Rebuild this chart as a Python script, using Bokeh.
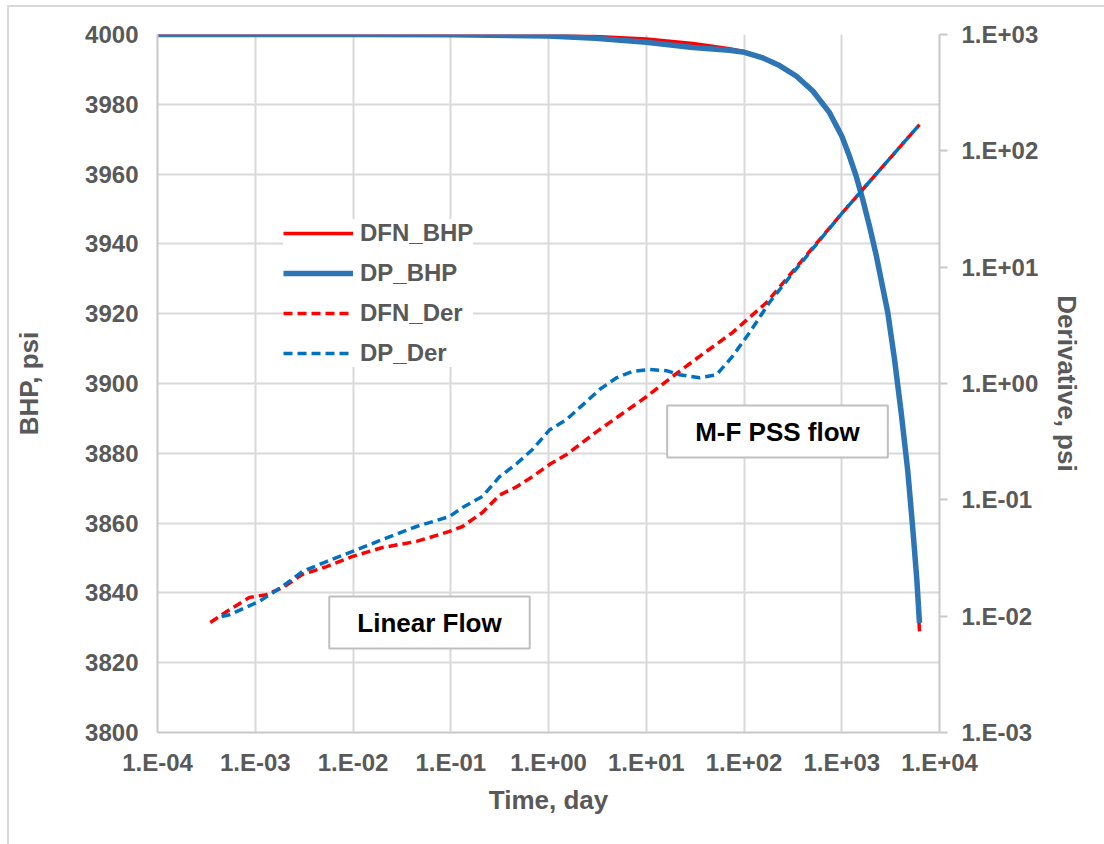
from bokeh.plotting import figure
from bokeh.models import (Range1d, LogScale, LogAxis, FixedTicker, Legend, LegendItem, Label)
from bokeh.embed import file_html
from bokeh.resources import INLINE

# ---------------- data ----------------
t_bhp = [1e-4, 1e-3, 1e-2, 1e-1, 1, 3, 10, 30, 71, 101, 156, 231, 342, 506, 750, 1000,
         1200, 1405, 1641, 1922, 2250, 2958, 3464, 4058, 4742, 5337, 5863, 6240]
dfn_bhp = [4000, 4000, 4000, 4000, 3999.8, 3999.4, 3998.7, 3997.4, 3995.9, 3995.1,
           3993.4, 3991.1, 3988.1, 3983.8, 3977.6, 3970.9, 3965.1, 3959.4, 3952.7,
           3945.1, 3936.8, 3920.3, 3907.0, 3891.6, 3874.8, 3858.2, 3843.8, 3829.0]
dp_bhp = [4000, 4000, 4000, 3999.95, 3999.6, 3998.9, 3997.8, 3996.3, 3995.5, 3994.9,
          3993.3, 3991.1, 3988.1, 3983.8, 3977.6, 3970.9, 3965.1, 3959.4, 3952.7,
          3945.1, 3936.8, 3920.3, 3907.0, 3891.6, 3874.8, 3858.2, 3843.8, 3831.4]

t_dfn_der = [3.47e-4, 5.50e-4, 8.71e-4, 1.30e-3, 1.91e-3, 3.02e-3, 5.37e-3, 9.89e-3,
             2.00e-2, 4.47e-2, 9.70e-2, 0.132, 0.211, 0.316, 0.468, 0.685, 1.02, 1.53,
             3.33, 7.23, 10.1, 18.6, 35.1, 76.2, 170, 1019, 6240]
dfn_der = [8.81e-3, 1.14e-2, 1.45e-2, 1.53e-2, 1.76e-2, 2.28e-2, 2.67e-2, 3.26e-2,
           3.89e-2, 4.39e-2, 5.35e-2, 5.90e-2, 7.78e-2, 0.110, 0.129, 0.158, 0.201, 0.245,
           0.402, 0.634, 0.773, 1.15, 1.71, 2.74, 4.97, 29.5, 168]

t_dp_der = [4.52e-4, 5.46e-4, 1.10e-3, 1.90e-3, 3.04e-3, 5.36e-3, 9.89e-3, 2.00e-2,
            4.47e-2, 9.70e-2, 0.132, 0.211, 0.316, 0.471, 0.685, 1.02, 1.53, 3.33,
            4.97, 7.23, 10.8, 16.1, 21.9, 35.1, 52.4, 76.2, 114, 182, 316, 1019, 6240]
dp_der = [9.93e-3, 1.03e-2, 1.34e-2, 1.80e-2, 2.42e-2, 2.95e-2, 3.60e-2, 4.56e-2,
          5.90e-2, 7.19e-2, 8.59e-2, 0.107, 0.158, 0.204, 0.271, 0.398, 0.490, 0.887,
          1.12, 1.27, 1.32, 1.29, 1.19, 1.12, 1.19, 1.71, 2.74, 4.97, 8.91, 29.5, 168]

x_ticks = [1e-4, 1e-3, 1e-2, 1e-1, 1e0, 1e1, 1e2, 1e3, 1e4]
x_tick_labels = ["1.E-04", "1.E-03", "1.E-02", "1.E-01", "1.E+00", "1.E+01",
                 "1.E+02", "1.E+03", "1.E+04"]
bhp_ticks = [3800, 3820, 3840, 3860, 3880, 3900, 3920, 3940, 3960, 3980, 4000]
der_ticks = [1e-3, 1e-2, 1e-1, 1e0, 1e1, 1e2, 1e3]
der_tick_labels = ["1.E-03", "1.E-02", "1.E-01", "1.E+00", "1.E+01", "1.E+02", "1.E+03"]

# ---------------- styling ----------------
FONT = "Liberation Sans"
GREY_TXT = "#595959"
GRID = "#d9d9d9"
AXIS = "#c8c8c8"
RED = "#ff0000"
BLUE = "#2e75b6"
BLUE_D = "#0070c0"

p = figure(width=1097, height=839, x_axis_type="log",
           x_range=Range1d(1e-4, 1e4), y_range=Range1d(3800, 4000),
           output_backend="svg", toolbar_location=None,
           min_border_left=148, min_border_right=167, min_border_top=27,
           min_border_bottom=114)
p.margin = (5, 0, 0, 7)
p.styles = {"border-top": "2px solid #d9d9d9", "border-left": "2px solid #d9d9d9"}
p.outline_line_color = None
p.background_fill_color = "white"
p.border_fill_color = "white"

p.extra_y_ranges = {"der": Range1d(1e-3, 1e3)}
p.extra_y_scales = {"der": LogScale()}

# grids
p.xgrid.ticker = FixedTicker(ticks=x_ticks)
p.ygrid.ticker = FixedTicker(ticks=bhp_ticks)
for g in (p.xgrid, p.ygrid):
    g.grid_line_color = GRID
    g.grid_line_width = 2
p.xgrid.minor_grid_line_color = None

# axes
xa = p.xaxis[0]
xa.ticker = FixedTicker(ticks=x_ticks)
xa.major_label_overrides = {t: l for t, l in zip(x_ticks, x_tick_labels)}
xa.axis_label = "Time, day"

ya = p.yaxis[0]
ya.ticker = FixedTicker(ticks=bhp_ticks)
ya.axis_label = "BHP, psi"

ra = LogAxis(y_range_name="der", ticker=FixedTicker(ticks=der_ticks),
             axis_label="Derivative, psi")
ra.major_label_overrides = {t: l for t, l in zip(der_ticks, der_tick_labels)}
p.add_layout(ra, "right")

for ax in (xa, ya, ra):
    ax.axis_line_color = AXIS
    ax.axis_line_width = 2
    ax.minor_tick_line_color = None
    ax.major_label_text_font = FONT
    ax.major_label_text_font_style = "bold"
    ax.major_label_text_font_size = "24px"
    ax.major_label_text_color = GREY_TXT
    ax.axis_label_text_font = FONT
    ax.axis_label_text_font_style = "bold"
    ax.axis_label_text_font_size = "26px"
    ax.axis_label_text_color = GREY_TXT
xa.major_tick_line_color = None
ya.major_tick_line_color = None
ra.major_tick_line_color = AXIS
ra.major_tick_line_width = 2
ra.major_tick_out = 8
ra.major_tick_in = 0
xa.major_label_standoff = 10
ya.major_label_standoff = 13
ra.major_label_standoff = 14
xa.axis_label_standoff = 6
ya.axis_label_standoff = 38
ra.axis_label_standoff = 11

# ---------------- lines ----------------
r1 = p.line(t_bhp, dfn_bhp, line_color=RED, line_width=3.5)
r2 = p.line(t_bhp, dp_bhp, line_color=BLUE, line_width=5.5)
r3 = p.line(t_dfn_der, dfn_der, line_color=RED, line_width=3.5, line_dash="9 5",
            y_range_name="der")
r4 = p.line(t_dp_der, dp_der, line_color=BLUE_D, line_width=3.5, line_dash="9 5",
            y_range_name="der")

legend = Legend(items=[LegendItem(label="DFN_BHP", renderers=[r1]),
                       LegendItem(label="DP_BHP", renderers=[r2]),
                       LegendItem(label="DFN_Der", renderers=[r3]),
                       LegendItem(label="DP_Der", renderers=[r4])],
                location=(126, 365))
legend.label_text_font = FONT
legend.label_text_font_style = "bold"
legend.label_text_font_size = "24px"
legend.label_text_color = GREY_TXT
legend.glyph_width = 70
legend.glyph_height = 26
legend.label_height = 26
legend.spacing = 12
legend.padding = 6
legend.margin = 0
legend.label_standoff = 7
legend.border_line_color = None
legend.background_fill_color = "white"
legend.background_fill_alpha = 1
p.add_layout(legend)

# ---------------- annotation boxes ----------------
for txt, sx, sy in (("Linear Flow", 272, 110), ("M-F PSS flow", 620, 301)):
    lab = Label(x=sx, y=sy, x_units="screen", y_units="screen", text=txt,
                text_font=FONT, text_font_style="bold", text_font_size="26px",
                text_color="black", text_align="center", text_baseline="middle",
                background_fill_color="white", border_line_color="#bfbfbf",
                border_line_width=2,
                padding=dict(left=28, right=28, top=11, bottom=11))
    p.add_layout(lab)

open("out.html", "w").write(file_html(p, INLINE))
